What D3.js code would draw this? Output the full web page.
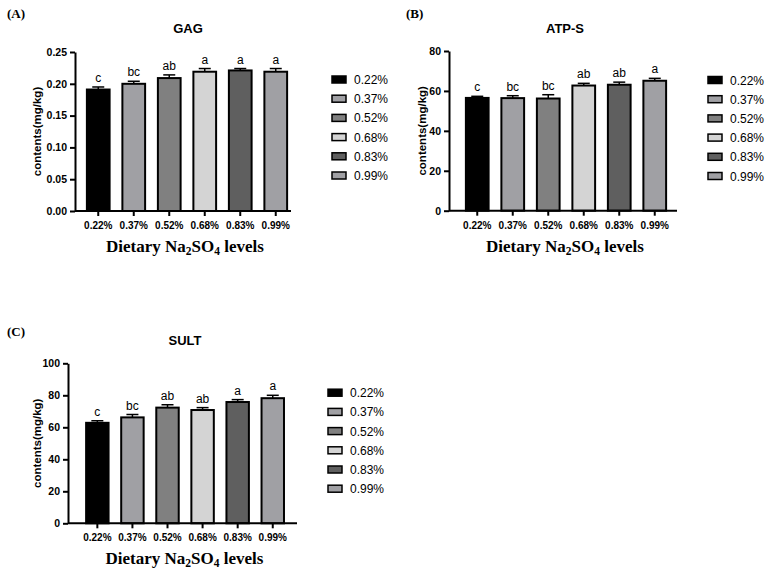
<!DOCTYPE html>
<html>
<head>
<meta charset="utf-8">
<script src="https://cdn.jsdelivr.net/npm/d3@7/dist/d3.min.js"></script>
<style>
  body { margin: 0; background: #fff; }
  svg { display: block; }
</style>
</head>
<body>
<script>
// dietary levels (categories, shared by all three panels)
var levels = ["0.22%", "0.37%", "0.52%", "0.68%", "0.83%", "0.99%"];

// (A) GAG
var gagMeans = [0.191, 0.200, 0.209, 0.219, 0.221, 0.219];
var gagErr = [0.004, 0.004, 0.005, 0.005, 0.003, 0.005];
var gagLetters = ["c", "bc", "ab", "a", "a", "a"];
var gagTicks = [0, 0.05, 0.10, 0.15, 0.20, 0.25];

// (B) ATP-S
var atpMeans = [56.5, 56.4, 56.2, 62.7, 63.1, 65.1];
var atpErr = [0.8, 1.2, 1.9, 1.1, 1.3, 1.2];
var atpLetters = ["c", "bc", "bc", "ab", "ab", "a"];
var atpTicks = [0, 20, 40, 60, 80];

// (C) SULT
var sultMeans = [62.8, 66.2, 72.3, 70.8, 75.8, 78.2];
var sultErr = [1.3, 1.8, 1.8, 1.5, 1.5, 1.8];
var sultLetters = ["c", "bc", "ab", "ab", "a", "a"];
var sultTicks = [0, 20, 40, 60, 80, 100];

var fills = ["#000000", "#a0a0a4", "#808080", "#d4d4d4", "#5f5f5f", "#a0a0a4"];

var svg = d3.select("body").append("svg")
    .attr("width", 773)
    .attr("height", 575);

var color = d3.scaleOrdinal().domain(levels).range(fills);

// one GraphPad-like panel
function drawPanel(p) {
  var g = svg.append("g");

  var x = d3.scaleBand().domain(levels).range(p.band).paddingInner(0.36).paddingOuter(0.18);
  var y = d3.scaleLinear().domain([p.ticks[0], p.ticks[p.ticks.length - 1]]).range([p.bottom, p.top]);

  // panel tag
  g.append("text")
      .attr("x", p.tagX).attr("y", p.tagY)
      .attr("font-family", "Liberation Serif, Times New Roman, serif")
      .attr("font-weight", "bold").attr("font-size", 13)
      .text(p.tag);

  // title
  g.append("text")
      .attr("x", p.titleX).attr("y", p.titleY)
      .attr("text-anchor", "middle")
      .attr("font-family", "Liberation Sans, Arial, sans-serif")
      .attr("font-weight", "bold").attr("font-size", 13)
      .text(p.title);

  // bars
  g.append("g").selectAll("rect")
    .data(p.means)
    .enter().append("rect")
      .attr("x", function(d, i) { return x(levels[i]); })
      .attr("y", function(d) { return y(d); })
      .attr("width", x.bandwidth())
      .attr("height", function(d) { return p.bottom - y(d); })
      .attr("fill", function(d, i) { return color(levels[i]); })
      .attr("stroke", "#000")
      .attr("stroke-width", 2);

  // error bars (upper only)
  var eb = g.append("g").attr("stroke", "#000").attr("stroke-width", 1.5);
  p.means.forEach(function(d, i) {
    var cx = x(levels[i]) + x.bandwidth() / 2;
    eb.append("line")
        .attr("x1", cx).attr("x2", cx)
        .attr("y1", y(d)).attr("y2", y(d + p.err[i]));
    eb.append("line")
        .attr("x1", cx - 6).attr("x2", cx + 6)
        .attr("y1", y(d + p.err[i])).attr("y2", y(d + p.err[i]));
  });

  // significance letters
  g.append("g").selectAll("text")
    .data(p.letters)
    .enter().append("text")
      .attr("x", function(d, i) { return x(levels[i]) + x.bandwidth() / 2; })
      .attr("y", function(d, i) { return y(p.means[i] + p.err[i]) - 5; })
      .attr("text-anchor", "middle")
      .attr("font-family", "Liberation Sans, Arial, sans-serif")
      .attr("font-size", 12)
      .text(function(d) { return d; });

  // y axis
  var yAxis = g.append("g")
      .attr("transform", "translate(" + p.axisX + ",0)")
      .call(d3.axisLeft(y).tickValues(p.ticks).tickSize(5).tickSizeOuter(0).tickFormat(p.fmt));
  yAxis.select(".domain").attr("stroke-width", 2);
  yAxis.selectAll(".tick line").attr("stroke-width", 2);
  yAxis.selectAll("text")
      .attr("font-family", "Liberation Sans, Arial, sans-serif")
      .attr("font-weight", "bold").attr("font-size", 10.5)
      .attr("fill", "#000");

  // x axis
  var xAxis = g.append("g")
      .attr("transform", "translate(0," + p.bottom + ")")
      .call(d3.axisBottom(x).tickSize(5).tickSizeOuter(0).tickPadding(6));
  xAxis.select(".domain").attr("d", "M" + p.axisX + ",0H" + p.right).attr("stroke-width", 2);
  xAxis.selectAll(".tick line").attr("stroke-width", 2);
  xAxis.selectAll("text")
      .attr("font-family", "Liberation Sans, Arial, sans-serif")
      .attr("font-weight", "bold").attr("font-size", 10)
      .attr("fill", "#000");

  // y label
  g.append("text")
      .attr("transform", "translate(" + p.yLabelX + "," + ((p.top + p.bottom) / 2) + ") rotate(-90)")
      .attr("text-anchor", "middle")
      .attr("font-family", "Liberation Sans, Arial, sans-serif")
      .attr("font-weight", "bold").attr("font-size", 11.5)
      .text("contents(mg/kg)");

  // x title with subscripts
  var xt = g.append("text")
      .attr("x", (p.axisX + p.right) / 2 + 2).attr("y", p.bottom + 41)
      .attr("text-anchor", "middle")
      .attr("font-family", "Liberation Serif, Times New Roman, serif")
      .attr("font-weight", "bold").attr("font-size", 17);
  xt.append("tspan").text("Dietary Na");
  xt.append("tspan").attr("font-size", 11.5).attr("dy", 3).text("2");
  xt.append("tspan").attr("dy", -3).text("SO");
  xt.append("tspan").attr("font-size", 11.5).attr("dy", 3).text("4");
  xt.append("tspan").attr("dy", -3).text(" levels");

  // legend
  var lg = g.append("g").selectAll("g")
    .data(levels)
    .enter().append("g")
      .attr("transform", function(d, i) { return "translate(" + p.legX + "," + (p.legY + i * 19.2) + ")"; });
  lg.append("rect")
      .attr("x", 0).attr("y", -3.5)
      .attr("width", 14).attr("height", 7)
      .attr("fill", function(d) { return color(d); })
      .attr("stroke", "#000").attr("stroke-width", 1.5);
  lg.append("text")
      .attr("x", 22).attr("y", 4.5)
      .attr("font-family", "Liberation Sans, Arial, sans-serif")
      .attr("font-size", 12)
      .text(function(d) { return d; });
}

drawPanel({
  tag: "(A)", tagX: 7, tagY: 18, title: "GAG", titleX: 188, titleY: 33,
  means: gagMeans, err: gagErr, letters: gagLetters, ticks: gagTicks, fmt: d3.format(".2f"),
  axisX: 75, right: 291, top: 52, bottom: 211, band: [80.5, 293.5],
  yLabelX: 41, legX: 332, legY: 79.5
});

drawPanel({
  tag: "(B)", tagX: 406, tagY: 18, title: "ATP-S", titleX: 565, titleY: 33,
  means: atpMeans, err: atpErr, letters: atpLetters, ticks: atpTicks, fmt: d3.format("d"),
  axisX: 449, right: 677, top: 51, bottom: 210.7, band: [459.5, 672.5],
  yLabelX: 426, legX: 708, legY: 80
});

drawPanel({
  tag: "(C)", tagX: 7, tagY: 336, title: "SULT", titleX: 185, titleY: 345,
  means: sultMeans, err: sultErr, letters: sultLetters, ticks: sultTicks, fmt: d3.format("d"),
  axisX: 68, right: 297, top: 363.3, bottom: 523.3, band: [79.8, 290.3],
  yLabelX: 41, legX: 328, legY: 392.7
});
</script>
</body>
</html>
